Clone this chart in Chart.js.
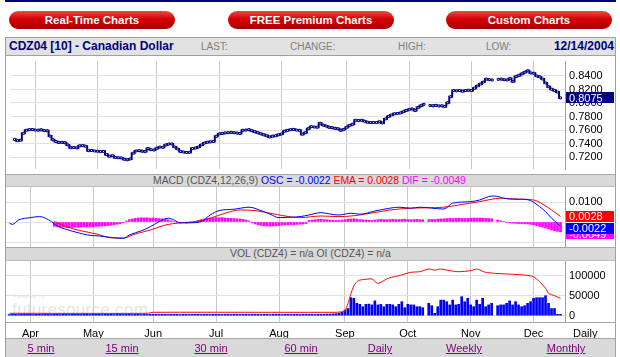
<!DOCTYPE html>
<html><head><meta charset="utf-8">
<script src="https://cdn.jsdelivr.net/npm/chart.js@4.4.1/dist/chart.umd.min.js"></script>
<style>
html,body{margin:0;padding:0;background:#fff;}
body{width:620px;height:357px;position:relative;overflow:hidden;font-family:"Liberation Sans",Arial,sans-serif;}
.a{position:absolute;white-space:nowrap;}
.btn{position:absolute;top:11px;height:18px;width:166px;border-radius:9px;background:linear-gradient(to bottom,#ec4a4a 0%,#d60000 45%,#a80000 100%);color:#fff;font-weight:bold;font-size:11.5px;line-height:18px;text-align:center;}
.bar{position:absolute;left:5px;width:611px;background:#d9d9d9;box-sizing:border-box;border-top:1px solid #a8a8a8;border-bottom:1px solid #bdbdbd;}
.lnk{position:absolute;top:342px;color:#800080;text-decoration:underline;font-size:11px;transform:translateX(-50%);white-space:nowrap;}
.hd{position:absolute;top:41px;font-size:10px;color:#7f7f7f;white-space:nowrap;}
canvas{position:absolute;}
</style></head><body>
<div class="a" style="left:5px;top:0;width:611px;height:2px;background:#000080"></div>
<div class="btn" style="left:9px">Real-Time Charts</div>
<div class="btn" style="left:228px">FREE Premium Charts</div>
<div class="btn" style="left:446px">Custom Charts</div>

<div class="a" style="left:5px;top:37px;width:611px;height:19px;background:#e2e2e2;border:1px solid #a0a0a0;box-sizing:border-box"></div>
<div class="a" style="left:9px;top:39px;font-weight:bold;font-size:12px;color:#000080">CDZ04 [10] - Canadian Dollar</div>
<div class="hd" style="left:201px">LAST:</div>
<div class="hd" style="left:290px">CHANGE:</div>
<div class="hd" style="left:398px">HIGH:</div>
<div class="hd" style="left:486px">LOW:</div>
<div class="a" style="right:6px;top:39px;font-weight:bold;font-size:12px;color:#000080">12/14/2004</div>

<div class="a" style="left:13px;top:293px;color:#e6e6e6;font-size:6px">Powered by</div>
<div class="a" style="left:12px;top:300px;color:#e6e6e6;font-size:17px;letter-spacing:0.3px">futuresource.com</div>

<canvas id="c1" width="610" height="118" style="left:5px;top:56px"></canvas>
<canvas id="c2" width="610" height="60" style="left:5px;top:187px"></canvas>
<canvas id="c3" width="610" height="77" style="left:5px;top:261px"></canvas>

<div class="bar" style="top:174px;height:13px"></div>
<div class="a" style="left:153px;top:175px;font-size:10.4px;line-height:12px"><span style="color:#555">MACD (CDZ4,12,26,9) </span><span style="color:#0000ff">OSC = -0.0022 </span><span style="color:#ff0000">EMA = 0.0028 </span><span style="color:#ff00ff">DIF = -0.0049</span></div>
<div class="bar" style="top:247px;height:14px"></div>
<div class="a" style="left:230px;top:248px;font-size:10.4px;line-height:12px;color:#555">VOL (CDZ4) = n/a OI (CDZ4) = n/a</div>
<div class="a" style="left:5px;top:322px;width:611px;height:1px;background:#a8a8a8"></div>
<div class="a" style="left:573px;top:327px;font-size:11px;color:#000">Daily</div>
<div class="bar" style="top:338px;height:19px;border-bottom:none"></div>
<div class="lnk" style="left:41px">5 min</div>
<div class="lnk" style="left:122px">15 min</div>
<div class="lnk" style="left:211px">30 min</div>
<div class="lnk" style="left:301px">60 min</div>
<div class="lnk" style="left:380px">Daily</div>
<div class="lnk" style="left:464px">Weekly</div>
<div class="lnk" style="left:566px">Monthly</div>
<div class="a" style="left:5px;top:55px;width:1px;height:302px;background:#a0a0a0"></div>
<div class="a" style="left:615px;top:55px;width:1px;height:302px;background:#a0a0a0"></div>

<script>
// ---------- data (trading-day index; Apr 1 2004 = day 8) ----------
const monthStart  = [8, 29, 49, 70, 91, 113, 134, 155, 176];
const monthLabels = ['Apr','May','Jun','Jul','Aug','Sep','Oct','Nov','Dec'];
const priceTicks  = [0.72, 0.74, 0.76, 0.78, 0.80, 0.82, 0.84];
const macdTicks   = [0.01, 0.005, 0, -0.005, -0.01];
const volTicks    = [0, 50000, 100000];

// daily closes, day 1..185
const closes = [
 0.7461,0.7443,0.7450,0.7552,0.7596,0.7606,0.7608,0.7600,0.7598,0.7604,
 0.7592,0.7590,0.7511,0.7457,0.7430,0.7416,0.7418,0.7412,0.7380,0.7339,
 0.7342,0.7336,0.7366,0.7370,0.7360,0.7295,0.7298,0.7290,0.7288,0.7281,
 0.7285,0.7240,0.7213,0.7220,0.7195,0.7190,0.7188,0.7169,0.7160,0.7172,
 0.7258,0.7291,0.7295,0.7288,0.7281,0.7326,0.7310,0.7304,0.7330,0.7349,
 0.7345,0.7380,0.7393,0.7395,0.7349,0.7320,0.7281,0.7275,0.7268,0.7272,
 0.7326,0.7335,0.7349,0.7380,0.7407,0.7420,0.7426,0.7430,0.7507,0.7542,
 0.7550,0.7558,0.7561,0.7565,0.7561,0.7555,0.7549,0.7596,0.7600,0.7606,
 0.7590,0.7575,0.7561,0.7545,0.7529,0.7515,0.7498,0.7510,0.7515,0.7530,
 0.7542,0.7583,0.7596,0.7605,0.7610,0.7600,0.7596,0.7538,0.7560,0.7619,
 0.7650,0.7645,0.7642,0.7700,0.7673,0.7660,0.7642,0.7635,0.7625,0.7619,
 0.7596,0.7610,0.7642,0.7670,0.7687,0.7745,0.7740,0.7745,0.7730,0.7715,
 0.7710,0.7712,0.7710,0.7723,0.7705,0.7764,0.7800,0.7822,0.7840,0.7845,
 0.7853,0.7870,0.7890,0.7905,0.7913,0.7890,0.7935,0.7960,0.7981,null,
 0.7962,0.7958,0.7965,0.7955,0.7958,0.7948,0.8002,0.8093,0.8184,0.8180,
 0.8184,0.8175,0.8184,0.8190,0.8184,0.8219,0.8251,0.8280,0.8309,0.8354,
 0.8345,0.8340,null,0.8350,0.8354,0.8345,0.8340,0.8363,0.8319,0.8390,
 0.8408,0.8431,0.8455,0.8476,0.8445,0.8440,0.8400,0.8386,0.8354,0.8296,
 0.8240,0.8205,0.8184,0.8161,0.8075
];

// MACD line (OSC), read at sample days
const macdDays = [1,2,4,8,11,13,15,17,20,24,27,31,36,39,41,45,48,51,54,56,58,61,65,68,71,76,81,85,88,91,95,98,101,105,108,111,115,118,123,128,131,135,138,146,149,155,158,161,163,166,169,172,175,178,180,182,184,185];
const macdVals = [-0.0006,-0.0012,0.0010,0.0022,0.0027,0.0019,0.0002,-0.0020,-0.0037,-0.0054,
 -0.0065,-0.0070,-0.0079,-0.0082,-0.0065,-0.0044,-0.0024,0.0002,0.0019,0.0010,
 -0.0004,-0.0004,0.0002,0.0035,0.0057,0.0064,0.0074,0.0057,0.0039,0.0022,
 0.0024,0.0027,0.0035,0.0047,0.0040,0.0035,0.0044,0.0039,0.0055,0.0069,
 0.0074,0.0069,0.0074,0.0065,0.0094,0.0102,0.0110,0.0127,0.0130,0.0119,
 0.0114,0.0114,0.0107,0.0077,0.0052,0.0019,-0.0007,-0.0022];

// EMA (signal) line
const emaDays = [16,20,25,30,35,39,43,48,53,58,63,68,73,78,83,88,93,98,105,111,118,128,135,146,151,158,165,171,176,179,182,185];
const emaVals = [0.0002,-0.0024,-0.0044,-0.0060,-0.0079,-0.0080,-0.0060,-0.0040,-0.0015,-0.0004,
 0.0002,0.0019,0.0044,0.0060,0.0057,0.0044,0.0030,0.0022,0.0030,0.0027,
 0.0035,0.0060,0.0069,0.0074,0.0085,0.0102,0.0119,0.0114,0.0110,0.0090,0.0060,0.0028];

// DIF histogram, day 16..185
const DIF_START = 16;
const difVals = [
 -0.0022,-0.0024,-0.0026,-0.0025,-0.0027,-0.0028,-0.0027,-0.0026,-0.0027,-0.0025,
 -0.0024,-0.0025,-0.0023,-0.0024,-0.0022,-0.0021,-0.0020,-0.0019,-0.0018,-0.0016,
 -0.0014,-0.0011,-0.0008,-0.0004,0.0005,0.0012,0.0015,0.0018,0.0020,0.0021,
 0.0020,0.0021,0.0019,0.0020,0.0018,0.0017,0.0016,0.0013,0.0010,0.0006,
 0.0002,-0.0003,-0.0005,-0.0004,-0.0006,-0.0004,-0.0002,0.0003,0.0008,0.0012,
 0.0015,0.0018,0.0020,0.0021,0.0022,0.0021,0.0022,0.0020,0.0019,0.0018,
 0.0017,0.0016,0.0015,0.0013,0.0010,0.0005,-0.0005,-0.0010,-0.0014,-0.0017,
 -0.0019,-0.0020,-0.0021,-0.0020,-0.0019,-0.0018,-0.0016,-0.0015,-0.0014,-0.0013,
 -0.0014,-0.0012,-0.0011,-0.0010,-0.0008,0.0008,0.0010,0.0012,0.0013,0.0014,
 0.0012,0.0011,0.0010,0.0009,0.0008,0.0008,0.0010,0.0012,0.0014,0.0015,
 0.0016,0.0014,0.0012,0.0011,0.0010,0.0009,0.0008,0.0010,0.0012,0.0013,
 0.0012,0.0011,0.0012,0.0013,0.0012,0.0012,0.0013,0.0014,0.0012,0.0011,
 0.0012,0.0013,0.0012,0.0011,null,0.0012,0.0013,0.0012,0.0014,0.0015,
 0.0016,0.0017,0.0018,0.0017,0.0018,0.0019,0.0018,0.0017,0.0018,0.0019,
 0.0020,0.0019,0.0020,0.0019,0.0018,0.0017,0.0016,null,0.0010,0.0006,
 0.0003,-0.0002,-0.0004,-0.0006,-0.0007,-0.0008,-0.0008,-0.0009,-0.0010,-0.0012,
 -0.0014,-0.0018,-0.0022,-0.0026,-0.0030,-0.0035,-0.0040,-0.0044,-0.0047,-0.0049
];

// daily volume, day 1..185
const volVals = [
 3000,3500,3500,3000,3500,3500,4000,3500,3000,3500,
 3500,3000,3500,3500,3000,3500,3500,3000,3500,3500,
 3000,3500,3500,3500,3000,3500,3500,3000,3500,3500,
 3500,3000,3500,3500,3500,3000,3500,3500,3000,3500,
 3500,3000,3500,3500,3000,3500,3000,3500,3500,3500,
 3000,3500,3500,3000,3500,3500,3500,3000,3500,3500,
 3000,3500,3500,3500,3000,3500,3500,3000,3500,3500,
 3500,3000,3500,3500,3000,3500,3500,3000,3500,3500,
 3000,3500,3500,3500,3000,3500,3500,3000,3500,3500,
 3500,3000,3500,3500,3000,3500,3500,3000,3500,3500,
 3500,3500,3000,3500,3500,3500,4000,4000,4500,5000,
 6500,8500,14000,18000,45000,43500,31000,28500,22500,28500,
 29000,27000,37000,27000,28500,22500,28500,28500,27000,22500,
 28500,35000,20000,28500,27000,27000,22500,22500,20000,null,
 31000,25000,6000,22500,39000,39000,35000,27000,39000,27000,
 28500,47500,35000,43500,27000,22500,39000,28500,43500,22500,
 27000,31000,null,25000,27000,27000,31000,37000,27000,35000,
 27000,22500,25000,31000,35000,43500,45000,45000,45000,50000,
 31000,18000,18000,3500,3500
];

// open interest line
const oiDays = [1,47,49,110,112,113,114,115,116,117,118,122,124,127,128,131,135,138,141,143,145,148,151,155,157,160,163,168,173,176,178,180,181,183,185];
const oiVals = [6000,6000,8500,8500,10000,12000,30000,55000,75000,85000,89000,92000,80500,92000,95000,100000,108500,110000,116700,114000,116700,112500,110000,112500,116700,108500,106000,104000,101700,97500,85000,68500,56000,50000,43500];

const lastClose = 0.8075, lastOsc = -0.0022, lastEma = 0.0028, lastDif = -0.0049;

// ---------- charts ----------
const FONT = '"Liberation Sans", Arial, sans-serif';
Chart.defaults.font.family = FONT;
Chart.defaults.font.size = 11;
Chart.defaults.color = '#000';
Chart.defaults.animation = false;

const days = closes.map((_, i) => i + 1);
const pts = (xs, ys) => xs.map((x, i) => ({x, y: ys[i]}));

function xAxis(show) {
  return {
    type: 'linear', min: -0.5, max: 186.5, offset: false,
    afterBuildTicks(ax) { ax.ticks = monthStart.map(v => ({value: v})); },
    afterFit(ax) { ax.height = show ? 16 : 0; ax.paddingLeft = 0; ax.paddingRight = 0; },
    grid: {color: '#c9c9c9', drawTicks: false, offset: false},
    border: {display: false},
    ticks: {display: show, padding: 5, maxRotation: 0, autoSkip: false, color: '#000',
            font: {size: 11}, callback: (v, i) => monthLabels[i]}
  };
}
function yAxis(min, max, ticks, fmt) {
  return {
    position: 'right', min, max,
    afterBuildTicks(ax) { ax.ticks = ticks.map(v => ({value: v})); },
    afterFit(ax) { ax.width = 50; ax.paddingTop = 0; ax.paddingBottom = 0; },
    grid: {color: '#e1e1e1', drawTicks: false},
    border: {display: true, color: '#a0a0a0'},
    ticks: {padding: 4, color: '#000', font: {size: 11}, callback: fmt}
  };
}
function badges(items) {
  return {
    id: 'badges',
    afterDraw(chart) {
      const ctx = chart.ctx, ys = chart.scales.y;
      const x0 = chart.chartArea.right + 1, w = chart.width - x0 - 1;
      ctx.save();
      ctx.font = '11px ' + FONT; ctx.textBaseline = 'middle';
      const placed = {};
      for (const b of items) {
        let y = ys.getPixelForValue(b.value) + (b.dy || 0);
        if (b.below && placed[b.below] !== undefined) y = Math.max(y, placed[b.below] + 12);
        placed[b.key] = y;
        ctx.fillStyle = b.bg; ctx.fillRect(x0, Math.round(y - 5.5), w, 11);
        ctx.fillStyle = '#fff'; ctx.fillText(b.value.toFixed(4), x0 + 3, Math.round(y) + 0.5);
      }
      ctx.restore();
    }
  };
}
const basePlugins = {legend: {display: false}, tooltip: {enabled: false}};

new Chart(document.getElementById('c1'), {
  type: 'line',
  data: {labels: days, datasets: [{
    data: closes, borderColor: '#000080', borderWidth: 2, stepped: 'middle', spanGaps: false,
    pointStyle: 'rect', pointRadius: 1.4, pointBackgroundColor: '#fff', pointBorderColor: '#000080', pointBorderWidth: 1
  }]},
  options: {responsive: false, devicePixelRatio: 1, layout: {padding: 0}, events: [],
    scales: {x: xAxis(false), y: yAxis(0.7024, 0.8621, priceTicks, v => v.toFixed(4))},
    plugins: basePlugins},
  plugins: [badges([{key: 'p', value: lastClose, bg: '#000080'}])]
});

new Chart(document.getElementById('c2'), {
  type: 'bar',
  data: {labels: days, datasets: [
    {type: 'line', data: pts(macdDays, macdVals), borderColor: '#0000ff', borderWidth: 1, pointRadius: 0, cubicInterpolationMode: 'monotone'},
    {type: 'line', data: pts(emaDays, emaVals), borderColor: '#ff0000', borderWidth: 1, pointRadius: 0, cubicInterpolationMode: 'monotone'},
    {type: 'bar', data: difVals.map((v, i) => ({x: i + DIF_START, y: v})), backgroundColor: '#ff00ff', barThickness: 2}
  ]},
  options: {responsive: false, devicePixelRatio: 1, layout: {padding: 0}, events: [],
    scales: {x: xAxis(false), y: yAxis(-0.0125, 0.0175, macdTicks, v => v === 0.01 ? '0.0100' : '')},
    plugins: basePlugins},
  plugins: [badges([
    {key: 'd', value: lastDif, bg: '#ff00ff', dy: 2},
    {key: 'e', value: lastEma, bg: '#ff0000'},
    {key: 'o', value: lastOsc, bg: '#0000ff', below: 'e'}
  ])]
});

new Chart(document.getElementById('c3'), {
  type: 'bar',
  data: {labels: days, datasets: [
    {type: 'line', data: pts(oiDays, oiVals), borderColor: '#ff0000', borderWidth: 1, pointRadius: 0, tension: 0.2},
    {type: 'bar', data: volVals, backgroundColor: '#0000ff', barThickness: 2}
  ]},
  options: {responsive: false, devicePixelRatio: 1, layout: {padding: 0}, events: [],
    scales: {x: xAxis(true), y: yAxis(-15750, 136750, volTicks, v => String(v))},
    plugins: basePlugins}
});
</script>
</body></html>
